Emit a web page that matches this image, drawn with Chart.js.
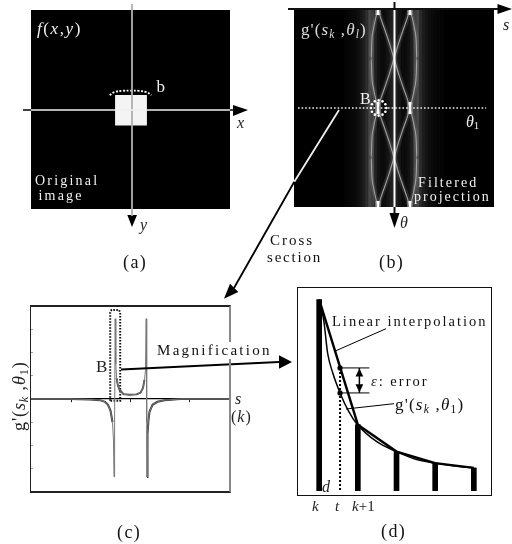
<!DOCTYPE html>
<html><head><meta charset="utf-8">
<script src="https://cdn.jsdelivr.net/npm/chart.js@4"></script>
<style>
html,body{margin:0;padding:0;background:#fff;overflow:hidden}
#page{position:relative;width:512px;height:544px;overflow:hidden;background:#fff;filter:blur(0.3px)}
canvas{position:absolute;display:block}
.t{position:absolute;font-family:"Liberation Serif",serif;white-space:nowrap;color:#111;z-index:5;line-height:normal}
.s{position:relative;top:.25em;font-size:.68em}
.frame{position:absolute;box-sizing:border-box;z-index:3;pointer-events:none}
</style></head><body><div id="page"></div>
<script>
// (a) original image: object outline in image coordinates
const squareX = [-15.5, 16.5, 16.5, -15.5, -15.5];
const squareY = [-14.5, -14.5, 16.2, 16.2, -14.5];
const regionTopX = [-21, -16, -8, 0, 8, 16, 21];
const regionTopY = [-14.5, -17.5, -18.8, -19, -18.8, -17.5, -14.5];
const regionBottomX = [-15.5, 16.5];
const regionBottomY = [-11.8, -11.8];

// (b) filtered projection: sinogram curves, sampled at theta
const thetaTop = [0, 10, 20, 35, 50, 65, 80, 90, 100];
const thetaBottom = [100, 110, 120, 135, 150, 165, 180, 190, 200];
const outerLeft = [-16, -18.5, -20.5, -22.3, -22.7, -22.3, -20.5, -18.5, -16];
const outerRight = [16, 18.5, 20.5, 22.3, 22.7, 22.3, 20.5, 18.5, 16];
const diagonalDown = [-16, -13, -9.5, -4.5, 0, 4.5, 9.5, 13, 16];
const diagonalUp = [16, 13, 9.5, 4.5, 0, -4.5, -9.5, -13, -16];
const glowS = [-48,-45,-42,-39,-36,-33,-30,-27,-24,-21,-18,-15,-12,-9,-6,-3,0,3,6,9,12,15,18,21,24,27,30,33,36,39,42,45,48];
const glowGray = [4,6,8,10,14,20,30,45,70,60,32,18,12,12,20,30,40,30,20,12,12,18,32,60,70,42,28,20,14,10,8,6,4];
const cuspS = [-16, 16];
const cuspTheta = [0, 6, null, 94, 106, null, 194, 200];
const circleS = [-8,-9,-12,-16,-20,-23,-24,-23,-20,-16,-12,-9];
const circleT = [100,96,93,92,93,96,100,104,107,108,107,104];

// (c) cross section
const sectionS = [-100,-60,-40,-30,-25,-22,-19.5,-17.5,-16.5,-16,-15.4,-14.8,-14.2,-13.4,-12.2,-10.5,-6.5,-0.5,6.5,10.5,13,14.5,15.5,16.2,16.7,17,17.5,18.5,19.5,22.5,27.5,34.5,50,100];
const sectionG = [0,0,-0.02,-0.05,-0.12,-0.25,-0.5,-1,-1.8,-3.35,-1,3.45,1.5,0.9,0.6,0.4,0.21,0.18,0.2,0.27,0.48,0.83,1.26,3.45,-1,-3.35,-1.5,-0.9,-0.55,-0.25,-0.12,-0.05,0,0];
const sectionTicksX = [-59, 0, 59];
const sectionTicksY = [-3, -2, -1, 1, 2, 3];
const boxBX = [-19.8, -19.8, -18.5, -11, -9.8, -9.8, -19.8];
const boxBY = [-0.08, 3.72, 3.83, 3.83, 3.72, -0.08, -0.08];

// (d) magnification
const samplesK = [0, 1, 2, 3, 4];
const samplesG = [199, 69, 41, 29, 24];
const trueK = [0, 0.12, 0.22, 0.35, 0.54, 0.76, 0.97, 1.5, 2, 2.5, 3, 3.5, 4];
const trueG = [199, 177, 143, 123, 102, 83, 70, 51, 41, 33, 29, 26, 24];
const tPos = 0.54;
const tValues = [128, 102];
const errorX = 1.04;

const page = document.getElementById('page');
function xy(xs, ys){ return xs.map((x,i)=>({x, y:ys[i]})); }
function line(data, color, width, extra){
  return Object.assign({type:'line', data, borderColor:color, borderWidth:width, pointRadius:0, fill:false, tension:0, borderCapStyle:'butt'}, extra||{});
}
function hidden(min, max, reverse){ return {type:'linear', display:false, offset:false, min, max, reverse:!!reverse}; }
function makeChart(left, top, w, h, datasets, scales, z, bg, css){
  const c = document.createElement('canvas');
  c.width = w; c.height = h;
  c.style.cssText = `left:${left}px;top:${top}px;width:${w}px;height:${h}px;z-index:${z||1};` + (bg?`background:${bg};`:'') + (css||'');
  page.appendChild(c);
  return new Chart(c, {type:'scatter', data:{datasets}, options:{
    responsive:false, animation:false, events:[], devicePixelRatio:1,
    layout:{padding:0}, plugins:{legend:{display:false}, tooltip:{enabled:false}}, scales}});
}

// Panel (a)
makeChart(31, 10, 199, 199, [
  line(xy(squareX, squareY), '#fff', 0, {fill:'shape', backgroundColor:'#f4f4f4'}),
  line(xy(regionTopX, regionTopY), '#fff', 1.8, {borderDash:[2,1.6], tension:0.4}),
  line(xy(regionBottomX, regionBottomY), '#555', 1.8, {borderDash:[2,1.6]})
], {x:hidden(-100,100), y:hidden(-100,100,true)}, 1, '#000');

// Panel (b)
const stripes = {type:'bar', data:xy(glowS, glowS.map(()=>[0,200])),
  backgroundColor:glowGray.map(g=>`rgb(${g},${g},${g})`), barPercentage:1, categoryPercentage:1, grouped:false, order:9};
function curveSets(color, width){
  const out = [];
  [outerLeft, outerRight, diagonalDown, diagonalUp].forEach(arr=>{
    [thetaTop, thetaBottom].forEach(th=>{
      out.push(line(xy(arr, th), color, width, {cubicInterpolationMode:'monotone', order:5}));
    });
  });
  return out;
}
const cuspSets = cuspS.flatMap(s=>[
  line(cuspTheta.map(t=>({x:s, y:t})), 'rgba(255,255,255,.3)', 6, {order:4}),
  line(cuspTheta.map(t=>({x:s, y:t})), '#fff', 2.2, {order:3})
]);
makeChart(294, 9, 200, 198, [
  stripes,
  ...curveSets('rgba(190,190,190,.14)', 5),
  ...curveSets('#a0a0a0', 1.1),
  ...cuspSets
], {x:hidden(-100,100), y:hidden(0,200,true)}, 1, '#000', 'filter:blur(0.7px);');
// crisp marks on top of the softened image
makeChart(294, 9, 200, 198, [
  line([{x:-100,y:100},{x:96,y:100}], '#eee', 1.5, {borderDash:[1.6,2]}),
  {type:'scatter', data:xy(circleS, circleT), pointRadius:1.3, pointBackgroundColor:'#fff', pointBorderWidth:0, showLine:false}
], {x:hidden(-100,100), y:hidden(0,200,true)}, 1);

// Panel (c)
const inner = sectionS.length;
makeChart(30, 306, 200, 186, [
  line(xy(sectionS, sectionG), '#777', 1),
  line(xy(sectionS, sectionG).slice(0, 8), '#333', 2),
  line(xy(sectionS, sectionG).slice(13, 22), '#444', 1.9),
  line(xy(sectionS, sectionG).slice(inner-9, inner), '#333', 2),
  line(xy(boxBX, boxBY), '#111', 2, {borderDash:[1.6,1.4]})
], {
  x:{type:'linear', min:-100, max:100, position:{y:0}, ticks:{display:false},
     afterBuildTicks:s=>{s.ticks = sectionTicksX.map(v=>({value:v}));},
     grid:{drawOnChartArea:false, drawTicks:true, tickLength:3, color:'#222', tickColor:'#222'},
     border:{display:true, color:'#000', width:1.2}},
  y:{type:'linear', min:-4, max:4, position:{x:-97}, ticks:{display:false},
     afterBuildTicks:s=>{s.ticks = sectionTicksY.map(v=>({value:v}));},
     grid:{drawOnChartArea:false, drawTicks:true, tickLength:3, color:'#999', tickColor:'#999'},
     border:{display:false}}
}, 1);
const fc = document.createElement('div');
fc.className = 'frame';
fc.style.cssText = 'left:30px;top:305px;width:201px;height:188px;border-top:2px solid #222;border-bottom:2px solid #222;border-left:1px solid #222;border-right:2px solid #888;';
page.appendChild(fc);

// Panel (d)
const kToX = [-0.47, 4.34];
const linear = line(xy(samplesK, samplesG), '#000', 2.4, {order:2});
makeChart(297, 287, 194, 208, [
  {type:'bar', data:xy(samplesK, samplesG), backgroundColor:'#000', barThickness:5, grouped:false, order:3},
  linear,
  line(xy(trueK, trueG), '#000', 1.5, {cubicInterpolationMode:'monotone', order:2}),
  line([{x:tPos,y:tValues[0]},{x:tPos,y:0}], '#000', 2, {borderDash:[2,2], order:2}),
  {type:'scatter', data:tValues.map(v=>({x:tPos,y:v})), pointRadius:2.6, pointBackgroundColor:'#000', pointBorderWidth:0, showLine:false, order:1},
  line([{x:tPos,y:tValues[0]},{x:1.3,y:tValues[0]}], '#000', 1, {order:2}),
  line([{x:tPos,y:tValues[1]},{x:1.3,y:tValues[1]}], '#000', 1, {order:2}),
  line([{x:errorX,y:tValues[1]},{x:errorX,y:tValues[0]}], '#000', 1.5, {order:2}),
  line([{x:errorX,y:tValues[0]-0.5},{x:errorX-0.1,y:tValues[0]-9},{x:errorX+0.1,y:tValues[0]-9},{x:errorX,y:tValues[0]-0.5}], '#000', 0, {fill:'shape', backgroundColor:'#000', order:1}),
  line([{x:errorX,y:tValues[1]+0.5},{x:errorX-0.1,y:tValues[1]+9},{x:errorX+0.1,y:tValues[1]+9},{x:errorX,y:tValues[1]+0.5}], '#000', 0, {fill:'shape', backgroundColor:'#000', order:1})
], {x:hidden(kToX[0],kToX[1]), y:hidden(0,208)}, 1);
const fd = document.createElement('div');
fd.className = 'frame';
fd.style.cssText = 'left:296.5px;top:286.5px;width:195px;height:209px;border:1.6px solid #111;';
page.appendChild(fd);

// Connecting axes, leaders and arrows drawn on one page-wide chart
const head = (p)=>line(p.map(([x,y])=>({x,y})), '#000', 0, {fill:'shape', backgroundColor:'#000'});
const seg = (p, color, w, extra)=>line(p.map(([x,y])=>({x,y})), color, w, extra);
makeChart(0, 0, 512, 544, [
  seg([[23,110],[31,110]], '#111', 1.6),
  seg([[31,110],[230,110]], '#f0f0f0', 1.6),
  seg([[230,110],[234,110]], '#111', 1.6),
  seg([[132,4],[132,216]], '#b0b0b0', 1.8),
  head([[248,110],[233,105],[233,116],[248,110]]),
  head([[132,227],[127.3,215],[137,215],[132,227]]),
  seg([[288,9],[498,9]], '#111', 1.8),
  head([[512,9],[497.5,4],[497.5,14],[512,9]]),
  seg([[394.5,2],[394.5,9]], '#111', 2),
  seg([[394.5,9],[394.5,207]], '#fff', 2),
  seg([[394.5,207],[394.5,214]], '#111', 2),
  head([[394.5,228],[389.5,213],[399.5,213],[394.5,228]]),
  seg([[339,110],[294.3,181.7]], '#f0f0f0', 1.8),
  seg([[294.3,181.7],[234,288]], '#000', 1.8),
  head([[224,298.7],[230,283.7],[238.3,292],[224,298.7]]),
  seg([[121,369.5],[279,362]], '#000', 1.8),
  head([[292,362],[279,355.3],[279,368.7],[292,362]]),
  seg([[335.3,351],[386,328.7]], '#000', 1),
  seg([[346,409],[394,403.7]], '#000', 1)
], {x:hidden(0,512), y:hidden(0,544,true)}, 2);

// Real text labels: [html, x, baseline, size, colour, letter spacing, rotated, background]
const W = '#f2f2f2';
const i = s=>`<i>${s}</i>`;
const sub = s=>`<span class="s">${s}</span>`;
const labelTexts = [
  [i('f')+'('+i('x')+','+i('y')+')', 37, 34, 17, W, 1.6],
  ['b', 156.5, 92, 17, '#eee', 0],
  [i('x'), 237, 128, 16, '#222', 0],
  [i('y'), 140, 230, 16, '#222', 0],
  ['Original', 35, 185, 14, W, 2.2],
  ['image', 38.5, 200, 14, W, 2.2],
  ['(a)', 123, 268, 18, '#111', 1.4],
  ["g'("+i('s')+sub(i('k'))+' ,'+i('θ')+sub(i('l'))+')', 301, 35, 17, '#ddd', 1.1],
  [i('s'), 503, 30, 16, '#222', 0],
  ['B', 360, 104, 16, W, 0],
  [i('θ')+sub('1'), 466, 127, 16, W, 0],
  ['Filtered', 418, 187, 14, W, 2.1],
  ['projection', 414, 201, 14, W, 2],
  [i('θ'), 400, 228, 16, '#222', 0],
  ['Cross', 270, 245, 15, '#111', 2],
  ['section', 267, 262, 15, '#111', 1.8],
  ['(b)', 379, 268, 18, '#111', 1.4],
  ["g'("+i('s')+sub(i('k'))+' ,'+i('θ')+sub('1')+')', 25, 431, 18, '#222', 0.9, true],
  ['B', 96, 372, 17, '#222', 0],
  ['Magnification', 157, 355, 15, '#111', 2.3, false, '#fff'],
  [i('s'), 235, 404, 16, '#222', 0],
  ['('+i('k')+')', 231, 422, 16, '#222', 1],
  ['(c)', 117, 538, 18, '#111', 1.4],
  ['Linear interpolation', 332, 326, 14.5, '#111', 2],
  [i('ε')+': error', 371, 386, 14.5, '#111', 2],
  ["g'("+i('s')+sub(i('k'))+' ,'+i('θ')+sub('1')+')', 395, 410, 17, '#111', 1.2, false, '#fff'],
  [i('d'), 322, 492, 16, '#222', 0],
  [i('k'), 312, 511, 15, '#222', 0],
  [i('t'), 335, 511, 15, '#222', 0],
  [i('k')+'+1', 352, 511, 15, '#222', 0],
  ['(d)', 381, 537, 18, '#111', 1.4]
];
labelTexts.forEach(([html,x,base,size,color,ls,rot,bg])=>{
  const e = document.createElement('div');
  e.className = 't';
  e.innerHTML = html;
  e.style.fontSize = size+'px';
  e.style.color = color;
  e.style.letterSpacing = ls+'px';
  e.style.left = x+'px';
  if(bg) e.style.background = bg;
  if(rot){
    e.style.top = base+'px';
    e.style.transformOrigin = '0 0';
    e.style.transform = 'rotate(-90deg) translateY(-0.891em)';
  } else {
    e.style.top = (base - 0.891*size)+'px';
  }
  page.appendChild(e);
});
</script></body></html>
